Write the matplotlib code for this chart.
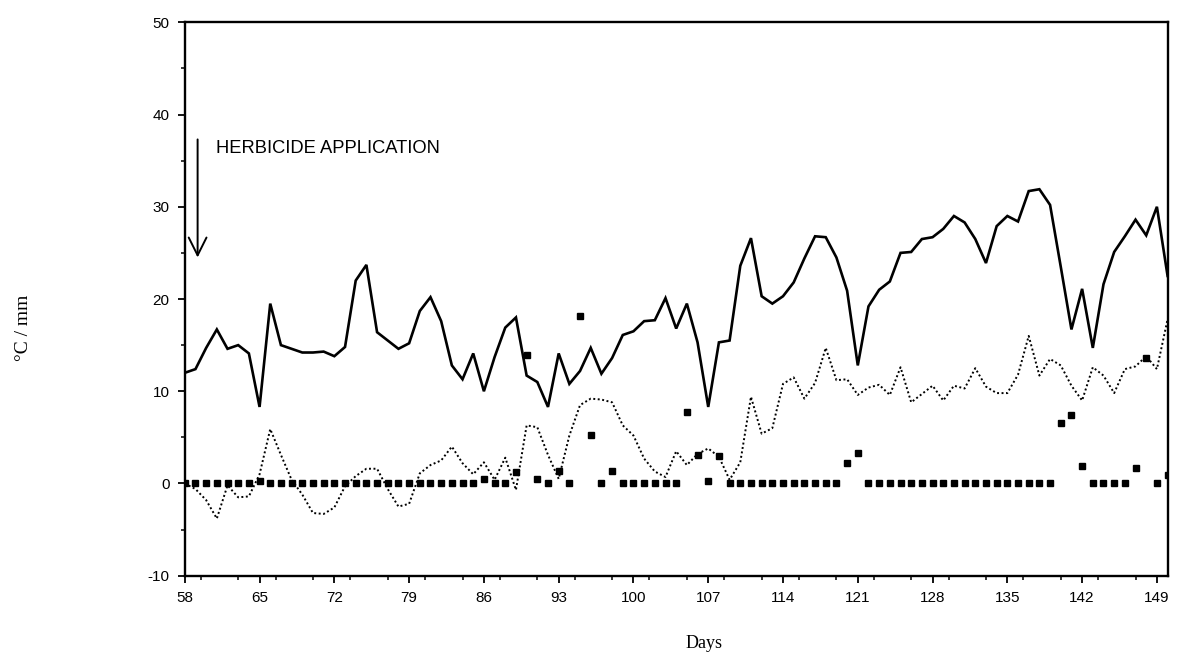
import numpy as np
import matplotlib
matplotlib.use('Agg')
import matplotlib.pyplot as plt
from matplotlib.ticker import MultipleLocator

plt.rcParams['axes.unicode_minus'] = False

# data, days 58 .. 150
days = list(range(58, 151))

max_temp = [12.0, 12.4, 14.7, 16.7, 14.6, 15.0, 14.1, 8.3, 19.5, 15.0,
            14.6, 14.2, 14.2, 14.3, 13.8, 14.8, 22.0, 23.7, 16.4, 15.5,
            14.6, 15.2, 18.7, 20.2, 17.6, 12.8, 11.3, 14.1, 10.0, 13.7,
            16.9, 18.0, 11.7, 11.0, 8.3, 14.1, 10.8, 12.2, 14.7, 11.9,
            13.6, 16.1, 16.5, 17.6, 17.7, 20.1, 16.8, 19.5, 15.3, 8.3,
            15.3, 15.5, 23.6, 26.6, 20.3, 19.5, 20.3, 21.8, 24.4, 26.8,
            26.7, 24.5, 20.9, 12.8, 19.2, 21.0, 21.9, 25.0, 25.1, 26.5,
            26.7, 27.6, 29.0, 28.3, 26.5, 23.9, 27.9, 29.0, 28.4, 31.7,
            31.9, 30.2, 23.5, 16.7, 21.1, 14.7, 21.6, 25.1, 26.8, 28.6,
            26.9, 30.0, 22.5]

min_temp = [0.0, -0.6, -1.8, -3.8, -0.2, -1.5, -1.4, 1.0, 5.9, 3.1,
            0.4, -1.2, -3.2, -3.3, -2.6, -0.3, 0.8, 1.6, 1.6, -0.6,
            -2.5, -2.2, 1.1, 2.0, 2.5, 4.0, 2.2, 1.0, 2.3, 0.4,
            2.8, -0.7, 6.3, 6.1, 3.1, 0.5, 5.2, 8.5, 9.2, 9.1,
            8.8, 6.3, 5.2, 2.7, 1.3, 0.7, 3.5, 2.0, 3.2, 3.8,
            2.9, 0.4, 2.3, 9.4, 5.4, 6.0, 10.8, 11.5, 9.2, 10.9,
            14.7, 11.2, 11.3, 9.6, 10.4, 10.7, 9.6, 12.6, 8.8, 9.7,
            10.6, 9.0, 10.6, 10.3, 12.5, 10.5, 9.8, 9.8, 11.8, 16.0,
            11.7, 13.5, 12.8, 10.6, 9.0, 12.6, 11.7, 9.8, 12.4, 12.7,
            13.8, 12.4, 17.8]

rain = [0.0, 0.0, 0.0, 0.0, 0.0, 0.0, 0.0, 0.3, 0.0, 0.0,
        0.0, 0.0, 0.0, 0.0, 0.0, 0.0, 0.0, 0.0, 0.0, 0.0,
        0.0, 0.0, 0.0, 0.0, 0.0, 0.0, 0.0, 0.0, 0.5, 0.0,
        0.0, 1.3, 13.9, 0.5, 0.0, 1.4, 0.0, 18.2, 5.3, 0.0,
        1.4, 0.0, 0.0, 0.0, 0.0, 0.0, 0.0, 7.7, 3.1, 0.3,
        3.0, 0.0, 0.0, 0.0, 0.0, 0.0, 0.0, 0.0, 0.0, 0.0,
        0.0, 0.0, 2.2, 3.3, 0.0, 0.0, 0.0, 0.0, 0.0, 0.0,
        0.0, 0.0, 0.0, 0.0, 0.0, 0.0, 0.0, 0.0, 0.0, 0.0,
        0.0, 0.0, 6.6, 7.4, 1.9, 0.0, 0.0, 0.0, 0.0, 1.7,
        13.6, 0.0, 0.9]

xticks = list(range(58, 150, 7))

fig = plt.figure(figsize=(11.77, 6.55), dpi=100)
ax = fig.add_axes([0.157, 0.121, 0.835, 0.845])

ax.plot(days, max_temp, color='black', lw=1.9, solid_joinstyle='miter')
ax.plot(days, min_temp, color='black', lw=1.4, linestyle=(0, (1, 1.3)))
ax.plot(days, rain, 's', color='black', markersize=5)

ax.set_xlim(58, 150)
ax.set_ylim(-10, 50)
ax.set_xticks(xticks)
ax.xaxis.set_minor_locator(MultipleLocator(3.5))
ax.yaxis.set_major_locator(MultipleLocator(10))
ax.yaxis.set_minor_locator(MultipleLocator(5))
for s in ax.spines.values():
    s.set_linewidth(1.7)
ax.tick_params(which='major', direction='out', length=5, width=1.3,
               labelsize=11, pad=6)
ax.tick_params(which='minor', direction='out', length=3, width=1.1)
for lab in ax.get_xticklabels() + ax.get_yticklabels():
    lab.set_family('Liberation Sans')

fig.text(0.598, 0.011, 'Days', family='Liberation Serif', fontsize=13,
         ha='center', va='baseline')
fig.text(0.02, 0.5, '°C / mm', family='Liberation Serif', fontsize=14,
         rotation=90, ha='center', va='center')

ax.annotate('', xy=(59.2, 24.2), xytext=(59.2, 37.6),
            arrowprops=dict(arrowstyle='->', color='black', lw=1.4,
                            mutation_scale=32))
ax.text(60.9, 36.3, 'HERBICIDE APPLICATION', family='Liberation Sans',
        fontsize=13.2, va='center', ha='left')

fig.savefig('out.png', dpi=100)
